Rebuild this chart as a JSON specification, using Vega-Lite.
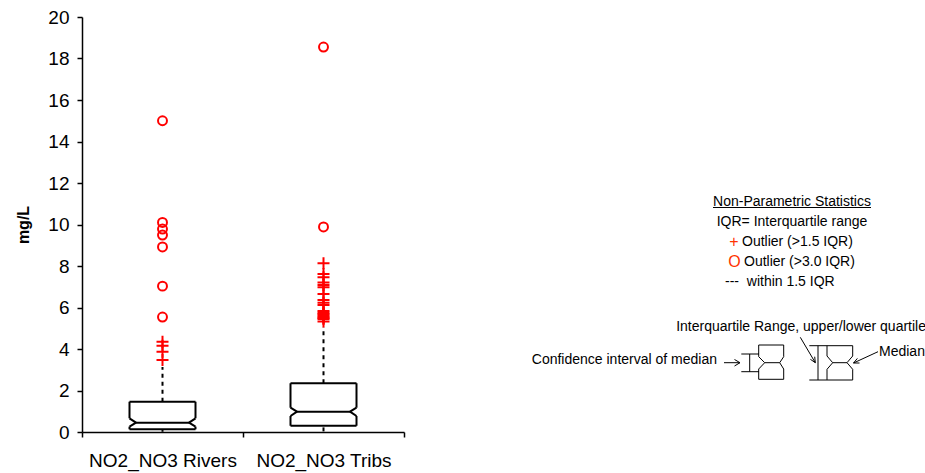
{
  "$schema": "https://vega.github.io/schema/vega-lite/v6.json",
  "background": "white",
  "padding": {"left": 15, "top": 8, "right": 0, "bottom": 5},
  "spacing": 10,
  "config": {
    "view": {"stroke": null},
    "font": "Liberation Sans",
    "axis": {"labelFont": "Liberation Sans", "titleFont": "Liberation Sans", "labelColor": "black", "titleColor": "black", "domainColor": "black", "tickColor": "black", "grid": false}
  },
  "datasets": {
    "stats": [
      {"cat": "NO2_NO3 Rivers", "q1": 0.13, "med": 0.45, "q3": 1.46, "nlo": 0.26, "nhi": 0.66, "wlo": 0.01, "whi": 3.13},
      {"cat": "NO2_NO3 Tribs", "q1": 0.30, "med": 0.98, "q3": 2.35, "nlo": 0.77, "nhi": 1.17, "wlo": 0.03, "whi": 5.06}
    ],
    "outliers": [
      {"cat": "NO2_NO3 Rivers", "value": 3.47, "kind": "near"},
      {"cat": "NO2_NO3 Rivers", "value": 3.87, "kind": "near"},
      {"cat": "NO2_NO3 Rivers", "value": 4.16, "kind": "near"},
      {"cat": "NO2_NO3 Rivers", "value": 4.35, "kind": "near"},
      {"cat": "NO2_NO3 Rivers", "value": 5.54, "kind": "far"},
      {"cat": "NO2_NO3 Rivers", "value": 7.03, "kind": "far"},
      {"cat": "NO2_NO3 Rivers", "value": 8.92, "kind": "far"},
      {"cat": "NO2_NO3 Rivers", "value": 9.49, "kind": "far"},
      {"cat": "NO2_NO3 Rivers", "value": 9.78, "kind": "far"},
      {"cat": "NO2_NO3 Rivers", "value": 10.1, "kind": "far"},
      {"cat": "NO2_NO3 Rivers", "value": 15.0, "kind": "far"},
      {"cat": "NO2_NO3 Tribs", "value": 5.32, "kind": "near"},
      {"cat": "NO2_NO3 Tribs", "value": 5.45, "kind": "near"},
      {"cat": "NO2_NO3 Tribs", "value": 5.5, "kind": "near"},
      {"cat": "NO2_NO3 Tribs", "value": 5.56, "kind": "near"},
      {"cat": "NO2_NO3 Tribs", "value": 5.62, "kind": "near"},
      {"cat": "NO2_NO3 Tribs", "value": 5.69, "kind": "near"},
      {"cat": "NO2_NO3 Tribs", "value": 5.75, "kind": "near"},
      {"cat": "NO2_NO3 Tribs", "value": 5.83, "kind": "near"},
      {"cat": "NO2_NO3 Tribs", "value": 6.12, "kind": "near"},
      {"cat": "NO2_NO3 Tribs", "value": 6.23, "kind": "near"},
      {"cat": "NO2_NO3 Tribs", "value": 6.36, "kind": "near"},
      {"cat": "NO2_NO3 Tribs", "value": 6.65, "kind": "near"},
      {"cat": "NO2_NO3 Tribs", "value": 6.97, "kind": "near"},
      {"cat": "NO2_NO3 Tribs", "value": 7.08, "kind": "near"},
      {"cat": "NO2_NO3 Tribs", "value": 7.21, "kind": "near"},
      {"cat": "NO2_NO3 Tribs", "value": 7.46, "kind": "near"},
      {"cat": "NO2_NO3 Tribs", "value": 7.61, "kind": "near"},
      {"cat": "NO2_NO3 Tribs", "value": 8.13, "kind": "near"},
      {"cat": "NO2_NO3 Tribs", "value": 9.88, "kind": "far"},
      {"cat": "NO2_NO3 Tribs", "value": 18.55, "kind": "far"}
    ],
    "notesCenter": [
      {"x": 377, "y": 184.7, "text": "Non-Parametric Statistics"},
      {"x": 377, "y": 204.7, "text": "IQR= Interquartile range"}
    ],
    "notesLeft": [
      {"x": 327, "y": 224.7, "text": "Outlier (>1.5 IQR)"},
      {"x": 329, "y": 244.7, "text": "Outlier (>3.0 IQR)"},
      {"x": 310, "y": 264.7, "text": "---\u00a0\u00a0within 1.5 IQR"},
      {"x": 464, "y": 334.7, "text": "Median"}
    ],
    "notesRight": [
      {"x": 511, "y": 309.7, "text": "Interquartile Range, upper/lower quartile"},
      {"x": 302, "y": 343, "text": "Confidence interval of median"}
    ],
    "notesSymbols": [
      {"x": 319, "y": 224.7, "text": "+"},
      {"x": 319.5, "y": 244.7, "text": "O"}
    ],
    "lines": [
      {"x": 298, "y": 190.5, "x2": 456, "y2": 190.5},
      {"x": 326.3, "y": 337, "x2": 344, "y2": 337},
      {"x": 326.3, "y": 354.7, "x2": 344, "y2": 354.7},
      {"x": 334.7, "y": 337, "x2": 334.7, "y2": 354.7},
      {"x": 343.7, "y": 328, "x2": 368.7, "y2": 328},
      {"x": 343.7, "y": 362.3, "x2": 368.7, "y2": 362.3},
      {"x": 343.7, "y": 328, "x2": 343.7, "y2": 339.7},
      {"x": 343.7, "y": 339.7, "x2": 349.7, "y2": 345.7},
      {"x": 349.7, "y": 345.7, "x2": 343.7, "y2": 352},
      {"x": 343.7, "y": 352, "x2": 343.7, "y2": 362.3},
      {"x": 368.7, "y": 328, "x2": 368.7, "y2": 339.7},
      {"x": 368.7, "y": 339.7, "x2": 364.7, "y2": 345.7},
      {"x": 364.7, "y": 345.7, "x2": 368.7, "y2": 352},
      {"x": 368.7, "y": 352, "x2": 368.7, "y2": 362.3},
      {"x": 349.7, "y": 345.7, "x2": 364.7, "y2": 345.7},
      {"x": 403, "y": 328.7, "x2": 403, "y2": 363},
      {"x": 394.3, "y": 328.7, "x2": 437.7, "y2": 328.7},
      {"x": 394.3, "y": 363, "x2": 437.7, "y2": 363},
      {"x": 412, "y": 328.7, "x2": 412, "y2": 339},
      {"x": 412, "y": 339, "x2": 417.7, "y2": 345.7},
      {"x": 417.7, "y": 345.7, "x2": 412, "y2": 352.3},
      {"x": 412, "y": 352.3, "x2": 412, "y2": 363},
      {"x": 437.7, "y": 328.7, "x2": 437.7, "y2": 339},
      {"x": 437.7, "y": 339, "x2": 432, "y2": 345.7},
      {"x": 432, "y": 345.7, "x2": 437.7, "y2": 352.3},
      {"x": 437.7, "y": 352.3, "x2": 437.7, "y2": 363},
      {"x": 417.7, "y": 345.7, "x2": 432, "y2": 345.7},
      {"x": 309, "y": 345.7, "x2": 325, "y2": 345.7},
      {"x": 319.5, "y": 342.5, "x2": 325, "y2": 345.7},
      {"x": 319.5, "y": 349, "x2": 325, "y2": 345.7},
      {"x": 385.3, "y": 320.3, "x2": 400.3, "y2": 345.7},
      {"x": 399.7, "y": 339.7, "x2": 400.3, "y2": 345.7},
      {"x": 395.4, "y": 342.3, "x2": 400.3, "y2": 345.7},
      {"x": 463, "y": 334.7, "x2": 438.5, "y2": 346},
      {"x": 444.5, "y": 346, "x2": 438.5, "y2": 346},
      {"x": 442.4, "y": 341.4, "x2": 438.5, "y2": 346}
    ]
  },
  "hconcat": [
    {
      "width": 322,
      "height": 415,
      "encoding": {
        "x": {
          "field": "cat", "type": "nominal",
          "sort": ["NO2_NO3 Rivers", "NO2_NO3 Tribs"],
          "scale": {"paddingInner": 0, "paddingOuter": 0},
          "axis": {"title": null, "labelAngle": 0, "tickBand": "extent", "labelFontSize": 19, "labelPadding": 14, "tickSize": 5, "tickWidth": 1.5, "domainWidth": 1.5}
        }
      },
      "layer": [
        {
          "data": {"name": "stats"},
          "mark": {"type": "rule", "color": "black", "strokeWidth": 2, "strokeDash": [4, 4]},
          "encoding": {
            "y": {
              "field": "q3", "type": "quantitative",
              "scale": {"domain": [0, 20], "nice": false, "zero": true},
              "axis": {"title": "mg/L", "values": [0, 2, 4, 6, 8, 10, 12, 14, 16, 18, 20], "labelFontSize": 19, "labelPadding": 8, "tickSize": 5, "tickWidth": 1.5, "domainWidth": 1.5, "titleFontSize": 16, "titleFontWeight": "bold", "titlePadding": 16}
            },
            "y2": {"field": "whi"}
          }
        },
        {
          "data": {"name": "stats"},
          "mark": {"type": "rule", "color": "black", "strokeWidth": 2, "strokeDash": [4, 4]},
          "encoding": {"y": {"field": "wlo", "type": "quantitative", "title": "mg/L"}, "y2": {"field": "q1"}}
        },
        {
          "data": {"name": "stats"},
          "mark": {"type": "rule", "color": "black", "strokeWidth": 2, "xOffset": -33, "x2Offset": 33},
          "encoding": {"x2": {"field": "cat"}, "y": {"field": "q3", "type": "quantitative", "title": "mg/L"}}
        },
        {
          "data": {"name": "stats"},
          "mark": {"type": "rule", "color": "black", "strokeWidth": 2, "xOffset": -33, "x2Offset": 33},
          "encoding": {"x2": {"field": "cat"}, "y": {"field": "q1", "type": "quantitative", "title": "mg/L"}}
        },
        {
          "data": {"name": "stats"},
          "mark": {"type": "rule", "color": "black", "strokeWidth": 2, "xOffset": -26.5, "x2Offset": 26.5},
          "encoding": {"x2": {"field": "cat"}, "y": {"field": "med", "type": "quantitative", "title": "mg/L"}}
        },
        {
          "data": {"name": "stats"},
          "mark": {"type": "rule", "color": "black", "strokeWidth": 2, "xOffset": -33},
          "encoding": {"y": {"field": "q3", "type": "quantitative", "title": "mg/L"}, "y2": {"field": "nhi"}}
        },
        {
          "data": {"name": "stats"},
          "mark": {"type": "rule", "color": "black", "strokeWidth": 2, "xOffset": 33},
          "encoding": {"y": {"field": "q3", "type": "quantitative", "title": "mg/L"}, "y2": {"field": "nhi"}}
        },
        {
          "data": {"name": "stats"},
          "mark": {"type": "rule", "color": "black", "strokeWidth": 2, "xOffset": -33},
          "encoding": {"y": {"field": "nlo", "type": "quantitative", "title": "mg/L"}, "y2": {"field": "q1"}}
        },
        {
          "data": {"name": "stats"},
          "mark": {"type": "rule", "color": "black", "strokeWidth": 2, "xOffset": 33},
          "encoding": {"y": {"field": "nlo", "type": "quantitative", "title": "mg/L"}, "y2": {"field": "q1"}}
        },
        {
          "data": {"name": "stats"},
          "mark": {"type": "rule", "color": "black", "strokeWidth": 2, "xOffset": -33, "x2Offset": -26.5},
          "encoding": {"x2": {"field": "cat"}, "y": {"field": "nhi", "type": "quantitative", "title": "mg/L"}, "y2": {"field": "med"}}
        },
        {
          "data": {"name": "stats"},
          "mark": {"type": "rule", "color": "black", "strokeWidth": 2, "xOffset": 33, "x2Offset": 26.5},
          "encoding": {"x2": {"field": "cat"}, "y": {"field": "nhi", "type": "quantitative", "title": "mg/L"}, "y2": {"field": "med"}}
        },
        {
          "data": {"name": "stats"},
          "mark": {"type": "rule", "color": "black", "strokeWidth": 2, "xOffset": -26.5, "x2Offset": -33},
          "encoding": {"x2": {"field": "cat"}, "y": {"field": "med", "type": "quantitative", "title": "mg/L"}, "y2": {"field": "nlo"}}
        },
        {
          "data": {"name": "stats"},
          "mark": {"type": "rule", "color": "black", "strokeWidth": 2, "xOffset": 26.5, "x2Offset": 33},
          "encoding": {"x2": {"field": "cat"}, "y": {"field": "med", "type": "quantitative", "title": "mg/L"}, "y2": {"field": "nlo"}}
        },
        {
          "data": {"name": "outliers"},
          "mark": {"type": "point", "filled": false, "color": "#ff0000", "strokeWidth": 2, "opacity": 1},
          "encoding": {
            "y": {"field": "value", "type": "quantitative", "title": "mg/L"},
            "shape": {"field": "kind", "type": "nominal", "scale": {"domain": ["near", "far"], "range": ["M-1,0H1M0,-1V1", "circle"]}, "legend": null},
            "size": {"field": "kind", "type": "nominal", "scale": {"domain": ["near", "far"], "range": [144, 80]}, "legend": null}
          }
        }
      ]
    },
    {
      "width": 510,
      "height": 415,
      "layer": [
        {
          "data": {"name": "lines"},
          "mark": {"type": "rule", "color": "black", "strokeWidth": 1},
          "encoding": {
            "x": {"field": "x", "type": "quantitative", "scale": {"domain": [0, 510], "nice": false, "zero": false}, "axis": null},
            "y": {"field": "y", "type": "quantitative", "scale": {"domain": [0, 415], "nice": false, "zero": false, "reverse": true}, "axis": null},
            "x2": {"field": "x2"},
            "y2": {"field": "y2"}
          }
        },
        {
          "data": {"name": "notesCenter"},
          "mark": {"type": "text", "align": "center", "baseline": "middle", "fontSize": 14, "font": "Liberation Sans", "color": "black"},
          "encoding": {
            "x": {"field": "x", "type": "quantitative"},
            "y": {"field": "y", "type": "quantitative"},
            "text": {"field": "text"}
          }
        },
        {
          "data": {"name": "notesLeft"},
          "mark": {"type": "text", "align": "left", "baseline": "middle", "fontSize": 14, "font": "Liberation Sans", "color": "black"},
          "encoding": {
            "x": {"field": "x", "type": "quantitative"},
            "y": {"field": "y", "type": "quantitative"},
            "text": {"field": "text"}
          }
        },
        {
          "data": {"name": "notesRight"},
          "mark": {"type": "text", "align": "right", "baseline": "middle", "fontSize": 14, "font": "Liberation Sans", "color": "black"},
          "encoding": {
            "x": {"field": "x", "type": "quantitative"},
            "y": {"field": "y", "type": "quantitative"},
            "text": {"field": "text"}
          }
        },
        {
          "data": {"name": "notesSymbols"},
          "mark": {"type": "text", "align": "center", "baseline": "middle", "fontSize": 16, "font": "Liberation Sans", "color": "#ff3300"},
          "encoding": {
            "x": {"field": "x", "type": "quantitative"},
            "y": {"field": "y", "type": "quantitative"},
            "text": {"field": "text"}
          }
        }
      ]
    }
  ]
}
